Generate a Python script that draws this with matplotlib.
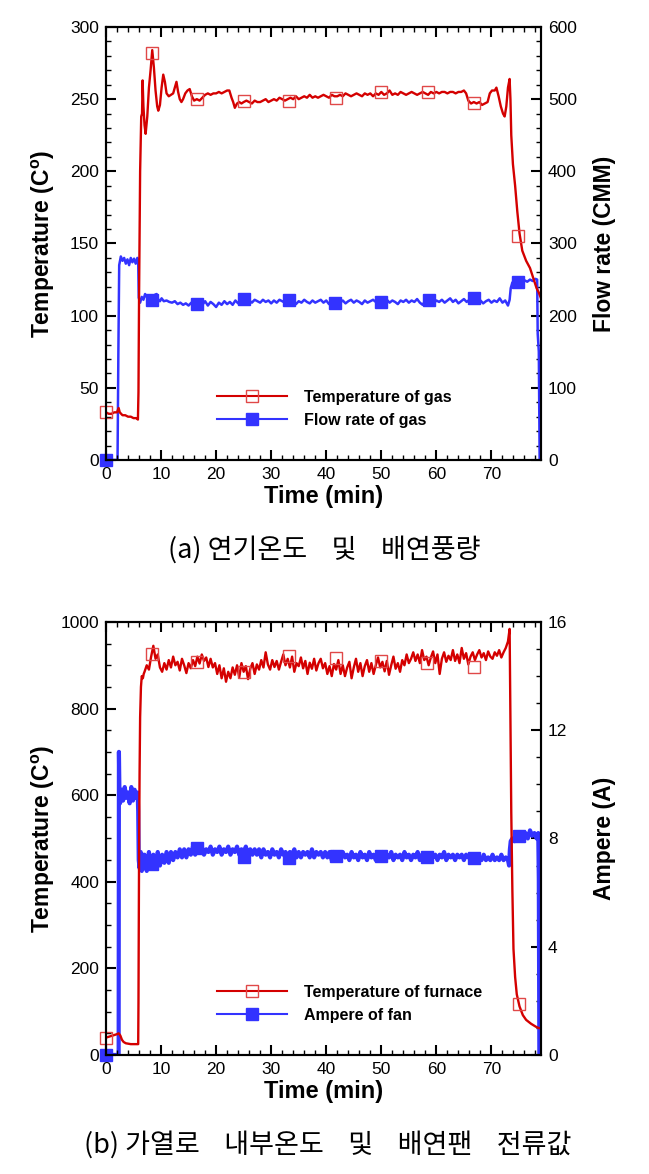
import matplotlib
matplotlib.use('Agg')
import matplotlib.pyplot as plt
from matplotlib.lines import Line2D
from matplotlib.ticker import MultipleLocator

plt.rcParams['font.family'] = ['Liberation Sans', 'DejaVu Sans']
plt.rcParams['mathtext.fontset'] = 'custom'
plt.rcParams['mathtext.rm'] = 'Liberation Sans'

RED = '#d40000'
RED_MARK = '#e04848'
BLUE = '#3333ff'

# ---------------- (a) gas temperature / flow rate ----------------
gas_t = [
    0, 0.5, 1, 1.5, 2, 2.3, 2.5, 3, 3.5, 4,
    4.5, 5, 5.5, 5.8, 5.9, 6.0, 6.2, 6.4, 6.55, 6.65,
    6.8, 7.0, 7.2, 7.5, 7.8, 8.1, 8.4, 8.7, 9.0, 9.3,
    9.5, 9.8, 10.1, 10.4, 10.7, 11.0, 11.4, 11.8, 12.2, 12.5,
    12.8, 13.1, 13.4, 13.7, 14.0, 14.4, 14.8, 15.2, 15.6, 16.0,
    16.5, 17, 17.5, 18, 18.5, 19, 19.5, 20, 20.5, 21,
    21.5, 22, 22.4, 22.8, 23.1, 23.4, 23.8, 24.2, 24.6, 25,
    25.5, 26, 26.5, 27, 27.5, 28, 28.5, 29, 29.5, 30,
    30.5, 31, 31.5, 32, 32.5, 33, 33.5, 34, 34.5, 35,
    35.5, 36, 36.5, 37, 37.5, 38, 38.5, 39, 39.5, 40,
    40.5, 41, 41.5, 42, 42.5, 43, 43.5, 44, 44.5, 45,
    45.5, 46, 46.5, 47, 47.5, 48, 48.5, 49, 49.5, 50,
    50.5, 51, 51.5, 52, 52.5, 53, 53.5, 54, 54.5, 55,
    55.5, 56, 56.5, 57, 57.5, 58, 58.5, 59, 59.5, 60,
    60.5, 61, 61.5, 62, 62.5, 63, 63.5, 64, 64.5, 65,
    65.4, 65.8, 66.3, 66.8, 67.3, 67.8, 68.3, 68.8, 69.3, 69.7,
    70.1, 70.6, 70.9, 71.3, 71.7, 72.1, 72.4, 72.7, 73.0, 73.3,
    73.45, 73.6, 73.9, 74.3, 74.7, 75.1, 75.6, 76.3, 77, 77.6,
    78.2, 78.6, 79,
]
gas_temp = [
    33, 32, 32, 33, 33, 36, 33, 31, 31, 30,
    30, 29, 29, 28, 47, 110, 200, 238, 240, 263,
    245, 232, 226, 238, 258, 270, 284, 272, 256, 245,
    242, 246, 258, 267, 262, 254, 252, 253, 254, 258,
    262, 255, 250, 248, 250, 254, 256, 257, 252, 249,
    250, 249, 251, 253, 254, 253, 254, 254, 255, 254,
    255, 256, 256, 251, 248, 244, 247, 248, 247, 248,
    249, 248, 247, 249, 248, 248, 249, 250, 248, 249,
    250, 249, 251, 250, 249, 250, 251, 250, 252, 250,
    251, 252, 251, 253, 251, 252, 251, 252, 253, 252,
    251, 253, 252, 252, 253, 252, 254, 253, 252, 253,
    254, 253, 252, 254, 253, 254, 252, 254, 253, 255,
    253, 254, 256, 253, 254, 253, 255, 254, 253, 254,
    255, 254, 253, 254, 255, 254, 253, 255, 254, 255,
    254, 255, 255, 254, 255, 255, 254, 255, 255, 256,
    254, 249, 247, 248, 247, 248, 246, 247, 248, 254,
    256, 256, 258, 252, 245, 240, 238, 245, 258, 264,
    250, 225, 205, 190, 172, 157, 145, 138, 133, 126,
    119, 116, 112,
]
gas_mark_t = [0, 8.3, 16.6, 25, 33.3, 41.7, 50, 58.4, 66.8, 74.9]
gas_mark_v = [33, 282, 250, 249, 249, 251, 255, 255, 247, 155]

flow_t = [
    0, 2.1, 2.25, 2.4, 2.7, 3.0, 3.3, 3.6, 3.9, 4.2,
    4.5, 4.8, 5.1, 5.4, 5.7, 5.85, 5.95, 6.2, 6.5, 6.8,
    7.1, 7.4, 7.7, 8.0, 8.3, 8.6, 8.9, 9.2, 9.5, 9.8,
    10.1, 10.5, 11, 11.5, 12, 12.5, 13, 13.5, 14, 14.5,
    15, 15.5, 16, 16.5, 17, 17.5, 18, 18.5, 19, 19.5,
    20, 20.5, 21, 21.5, 22, 22.5, 23, 23.5, 24, 24.5,
    25, 25.5, 26, 26.5, 27, 27.5, 28, 28.5, 29, 29.5,
    30, 30.5, 31, 31.5, 32, 32.5, 33, 33.5, 34, 34.5,
    35, 35.5, 36, 36.5, 37, 37.5, 38, 38.5, 39, 39.5,
    40, 40.5, 41, 41.5, 42, 42.5, 43, 43.5, 44, 44.5,
    45, 45.5, 46, 46.5, 47, 47.5, 48, 48.5, 49, 49.5,
    50, 50.5, 51, 51.5, 52, 52.5, 53, 53.5, 54, 54.5,
    55, 55.5, 56, 56.5, 57, 57.5, 58, 58.5, 59, 59.5,
    60, 60.5, 61, 61.5, 62, 62.5, 63, 63.5, 64, 64.5,
    65, 65.5, 66, 66.5, 67, 67.5, 68, 68.5, 69, 69.5,
    70, 70.5, 71, 71.5, 72, 72.5, 73, 73.3, 73.5, 73.8,
    74.2, 74.6, 75, 75.5, 76, 76.5, 77, 77.5, 78, 78.3,
    78.4, 78.6, 78.75,
]
flow_rate = [
    0, 0, 150, 270, 282, 276, 280, 272, 278, 270,
    280, 274, 279, 272, 280, 276, 225, 218, 226, 222,
    230, 226, 220, 222, 218, 224, 229, 230, 222, 220,
    224, 220, 221, 219, 218, 220, 216, 218, 215, 217,
    214, 218, 213, 216, 218, 215, 220, 214, 219, 216,
    212, 218, 215, 220, 216, 219, 215, 221, 217, 220,
    222, 219, 221, 218, 222, 220, 218, 222, 219, 221,
    217, 221, 218, 222, 220, 218, 222, 219, 221, 216,
    220, 218, 222, 219, 217, 221, 218, 220, 222, 218,
    221, 216, 220, 219, 222, 218, 221, 217, 220, 222,
    218, 221, 219, 216, 221, 218, 220, 222, 219, 221,
    217, 220, 222, 218, 221, 219, 216, 221, 219, 222,
    218, 221, 219, 223, 218, 215, 221, 219, 222, 217,
    221, 219, 222, 218, 221, 224, 219, 222, 217, 220,
    223, 219, 222, 220, 224, 219, 221, 217, 220, 222,
    218, 221, 219, 224, 218, 221, 214, 222, 238, 246,
    248, 244, 248, 246, 249, 247, 250, 248, 251, 250,
    175, 150, 0,
]
flow_mark_t = [0, 8.3, 16.5, 25.1, 33.2, 41.6, 50, 58.6, 66.8, 74.8]
flow_mark_v = [0, 221, 216, 223, 222, 218, 219, 221, 224, 247]

# ---------------- (b) furnace temperature / fan ampere ----------------
t_mid = [
    7.0, 7.4, 7.8, 8.2, 8.6, 9.0, 9.4, 9.8, 10.2, 10.6,
    11.0, 11.4, 11.8, 12.2, 12.6, 13.0, 13.4, 13.8, 14.2, 14.6,
    15.0, 15.4, 15.8, 16.2, 16.6, 17.0, 17.4, 17.8, 18.2, 18.6,
    19.0, 19.4, 19.8, 20.2, 20.6, 21.0, 21.4, 21.8, 22.2, 22.6,
    23.0, 23.4, 23.8, 24.2, 24.6, 25.0, 25.4, 25.8, 26.2, 26.6,
    27.0, 27.4, 27.8, 28.2, 28.6, 29.0, 29.4, 29.8, 30.2, 30.6,
    31.0, 31.4, 31.8, 32.2, 32.6, 33.0, 33.4, 33.8, 34.2, 34.6,
    35.0, 35.4, 35.8, 36.2, 36.6, 37.0, 37.4, 37.8, 38.2, 38.6,
    39.0, 39.4, 39.8, 40.2, 40.6, 41.0, 41.4, 41.8, 42.2, 42.6,
    43.0, 43.4, 43.8, 44.2, 44.6, 45.0, 45.4, 45.8, 46.2, 46.6,
    47.0, 47.4, 47.8, 48.2, 48.6, 49.0, 49.4, 49.8, 50.2, 50.6,
    51.0, 51.4, 51.8, 52.2, 52.6, 53.0, 53.4, 53.8, 54.2, 54.6,
    55.0, 55.4, 55.8, 56.2, 56.6, 57.0, 57.4, 57.8, 58.2, 58.6,
    59.0, 59.4, 59.8, 60.2, 60.6, 61.0, 61.4, 61.8, 62.2, 62.6,
    63.0, 63.4, 63.8, 64.2, 64.6, 65.0, 65.4, 65.8, 66.2, 66.6,
    67.0, 67.4, 67.8, 68.2, 68.6, 69.0, 69.4, 69.8, 70.2, 70.6,
    71.0, 71.4, 71.8, 72.2, 72.6,
]

furn_t_start = [0, 0.5, 1.0, 1.5, 2.0, 2.3, 2.6, 2.9, 3.2, 3.6,
                4.0, 4.5, 5.0, 5.5, 5.85, 5.9, 6.0, 6.1, 6.2, 6.35,
                6.5, 6.7, 6.85]
furn_v_start = [40, 42, 44, 46, 48, 50, 45, 35, 30, 27,
                26, 25, 25, 25, 25, 120, 440, 650, 780, 850,
                875, 870, 880]
furn_v_mid = [
    885, 900, 890, 920, 945, 915, 925, 895, 885, 905,
    890, 912, 895, 920, 900, 908, 888, 915, 900, 882,
    905, 893, 912, 898, 920, 904, 925, 910, 918, 896,
    915, 895, 905, 880, 900, 870, 893, 862, 885, 870,
    895, 878, 900, 872, 905, 885, 898, 868, 892, 905,
    880, 902, 890, 912, 895, 930, 902, 890, 912, 896,
    910, 890, 908, 925, 900, 915, 895, 920, 885, 905,
    898, 918, 893, 910, 880, 906, 892, 915, 888, 905,
    915, 893, 905, 880, 898, 875, 903, 890, 912, 880,
    900, 875, 895, 908, 870, 895, 915, 885, 905, 875,
    898, 912, 885, 905, 880, 900, 918, 895, 908, 886,
    910, 878, 900, 920, 892, 905, 885, 912, 900, 925,
    905, 915, 930, 910, 925, 905, 935, 912, 920, 900,
    918, 932, 905, 925, 880, 915, 930, 908, 922, 912,
    935, 910, 925, 905, 940, 915, 928, 902, 920, 930,
    912, 925, 935, 918, 928, 912, 932, 920, 915, 930,
    922, 935, 918, 930, 940,
]
furn_t_end = [73.0, 73.3, 73.45, 73.6, 73.8, 74.0, 74.3, 74.6, 75.1, 75.7,
              76.3, 77.2, 78.1, 78.6, 79.0]
furn_v_end = [955, 984, 760, 560, 380, 245, 180, 140, 112, 92,
              81, 72, 65, 62, 62]
furn_mark_t = [0, 8.3, 16.5, 25, 33.2, 41.7, 50, 58.3, 66.8, 75]
furn_mark_v = [40, 926, 908, 885, 921, 916, 910, 905, 897, 118]

amp_t_start = [0, 2.3, 2.35, 2.45, 2.55, 2.8, 3.1, 3.4, 3.7, 4.0,
               4.3, 4.6, 4.9, 5.2, 5.5, 5.75, 5.85, 5.95, 6.1, 6.3,
               6.5, 6.7, 6.85]
amp_v_start = [0, 0, 11.2, 9.6, 9.3, 9.8, 9.4, 9.9, 9.5, 9.7,
               9.3, 9.9, 9.4, 9.8, 9.5, 9.7, 9.0, 7.2, 6.9, 7.5,
               6.8, 7.4, 6.9]
amp_v_mid = [
    7.4, 6.8, 7.5, 6.9, 7.4, 6.9, 7.5, 7.0, 7.4, 7.1,
    7.5, 7.1, 7.5, 7.2, 7.5, 7.3, 7.6, 7.3, 7.6, 7.3,
    7.6, 7.4, 7.7, 7.4, 7.7, 7.5, 7.7, 7.4, 7.6, 7.5,
    7.7, 7.4, 7.6, 7.5, 7.7, 7.4, 7.6, 7.5, 7.7, 7.4,
    7.6, 7.5, 7.7, 7.4, 7.6, 7.5, 7.7, 7.4, 7.6, 7.4,
    7.6, 7.4, 7.6, 7.3, 7.6, 7.4, 7.5, 7.3, 7.6, 7.4,
    7.5, 7.3, 7.6, 7.4, 7.5, 7.3, 7.5, 7.4, 7.6, 7.3,
    7.5, 7.3, 7.5, 7.4, 7.5, 7.3, 7.6, 7.3, 7.5, 7.4,
    7.5, 7.3, 7.5, 7.3, 7.5, 7.2, 7.5, 7.3, 7.4, 7.3,
    7.5, 7.3, 7.4, 7.2, 7.5, 7.3, 7.4, 7.2, 7.5, 7.3,
    7.4, 7.2, 7.5, 7.3, 7.4, 7.2, 7.4, 7.3, 7.5, 7.2,
    7.4, 7.3, 7.5, 7.2, 7.4, 7.3, 7.4, 7.2, 7.5, 7.3,
    7.4, 7.2, 7.4, 7.3, 7.5, 7.2, 7.4, 7.3, 7.4, 7.2,
    7.4, 7.3, 7.4, 7.2, 7.4, 7.3, 7.5, 7.2, 7.4, 7.3,
    7.4, 7.2, 7.4, 7.3, 7.4, 7.2, 7.4, 7.3, 7.3, 7.2,
    7.4, 7.2, 7.3, 7.2, 7.4, 7.2, 7.3, 7.2, 7.4, 7.2,
    7.3, 7.2, 7.4, 7.2, 7.3,
]
amp_t_end = [73.0, 73.2, 73.35, 73.5, 73.8, 74.2, 74.6, 75.0, 75.4, 75.8,
             76.2, 76.6, 77.0, 77.4, 77.8, 78.2, 78.5, 78.6, 78.7]
amp_v_end = [7.2, 7.0, 7.6, 7.9, 8.0, 7.9, 8.1, 8.0, 8.2, 8.0,
             8.2, 8.0, 8.3, 8.1, 8.2, 8.0, 8.2, 6.5, 0]
amp_mark_t = [0, 8.3, 16.6, 25, 33.2, 41.7, 50, 58.3, 66.8, 75]
amp_mark_v = [0, 7.04, 7.65, 7.33, 7.28, 7.36, 7.36, 7.33, 7.28, 8.08]

fig = plt.figure(figsize=(6.49, 11.74), dpi=100)


def panel(rect, temp_t, temp_v, temp_mt, temp_mv, sec_t, sec_v, sec_mt, sec_mv,
          ymax, ystep, yminor, y2max, y2step, y2minor, y2label, labels,
          caption, cap_x, cap_y, xlab_y, sec_lw):
    ax = fig.add_axes(rect)
    ax2 = ax.twinx()
    ax.set_zorder(ax2.get_zorder() + 1)
    ax.patch.set_visible(False)

    ax2.plot(sec_t, sec_v, color=BLUE, lw=sec_lw)
    ax2.plot(sec_mt, sec_mv, ls='none', marker='s', ms=8, color=BLUE,
             clip_on=False)
    ax.plot(temp_t, temp_v, color=RED, lw=1.7)
    ax.plot(temp_mt, temp_mv, ls='none', marker='s', ms=8.5, mfc='none',
            mec=RED_MARK, mew=1, clip_on=False)

    ax.set_xlim(0, 79)
    ax.set_ylim(0, ymax)
    ax2.set_ylim(0, y2max)
    ax.xaxis.set_major_locator(MultipleLocator(10))
    ax.xaxis.set_minor_locator(MultipleLocator(2))
    ax.yaxis.set_major_locator(MultipleLocator(ystep))
    ax.yaxis.set_minor_locator(MultipleLocator(yminor))
    ax2.yaxis.set_major_locator(MultipleLocator(y2step))
    ax2.yaxis.set_minor_locator(MultipleLocator(y2minor))

    for a in (ax, ax2):
        for s in a.spines.values():
            s.set_linewidth(1.5)
        a.tick_params(which='both', direction='in', width=1.5,
                      labelsize=12.5, pad=5)
        a.tick_params(which='major', length=7)
        a.tick_params(which='minor', length=3.5, width=1)
    ax.tick_params(which='both', top=True, right=False)

    ax.set_ylabel(r'Temperature (C$^\mathregular{o}$)', fontsize=16.5,
                  fontweight='bold', va='center')
    ax.yaxis.set_label_coords(-0.145, 0.5)
    ax2.set_ylabel(y2label, fontsize=16.5, fontweight='bold', va='center')
    ax2.yaxis.set_label_coords(1.147, 0.5)
    ax.set_xlabel('Time (min)', fontsize=17, fontweight='bold', va='center')
    ax.xaxis.set_label_coords(0.5, xlab_y)

    handles = [
        Line2D([], [], color=RED, lw=1.5, marker='s', ms=8.5, mfc='none',
               mec=RED_MARK, mew=1),
        Line2D([], [], color=BLUE, lw=1.5, marker='s', ms=8),
    ]
    ax.legend(handles, labels, loc='center left',
              bbox_to_anchor=(0.255, 0.118), frameon=False,
              prop={'size': 11.5, 'weight': 'bold'}, handlelength=4.4,
              handletextpad=1.05, labelspacing=0.5, borderpad=0,
              borderaxespad=0, numpoints=1)

    fig.text(cap_x, cap_y, caption, ha='center', va='center', fontsize=19.5,
             family=['Noto Sans CJK KR', 'DejaVu Sans'])
    return ax, ax2


GAP = '    '

panel([0.1633, 0.6082, 0.6703, 0.3688],
      gas_t, gas_temp, gas_mark_t, gas_mark_v,
      flow_t, flow_rate, flow_mark_t, flow_mark_v,
      300, 50, 10, 600, 100, 20, 'Flow rate (CMM)',
      ['Temperature of gas', 'Flow rate of gas'],
      '(a) 연기온도' + GAP + '및' + GAP + '배연풍량', 0.499, 0.5315, -0.085, 1.8)

panel([0.1633, 0.1014, 0.6703, 0.3688],
      furn_t_start + t_mid + furn_t_end,
      furn_v_start + furn_v_mid + furn_v_end,
      furn_mark_t, furn_mark_v,
      amp_t_start + t_mid + amp_t_end,
      amp_v_start + amp_v_mid + amp_v_end,
      amp_mark_t, amp_mark_v,
      1000, 200, 50, 16, 4, 1, 'Ampere (A)',
      ['Temperature of furnace', 'Ampere of fan'],
      '(b) 가열로' + GAP + '내부온도' + GAP + '및' + GAP + '배연팬' + GAP + '전류값',
      0.505, 0.0247, -0.085, 3.0)

fig.savefig('out.png', dpi=100)
